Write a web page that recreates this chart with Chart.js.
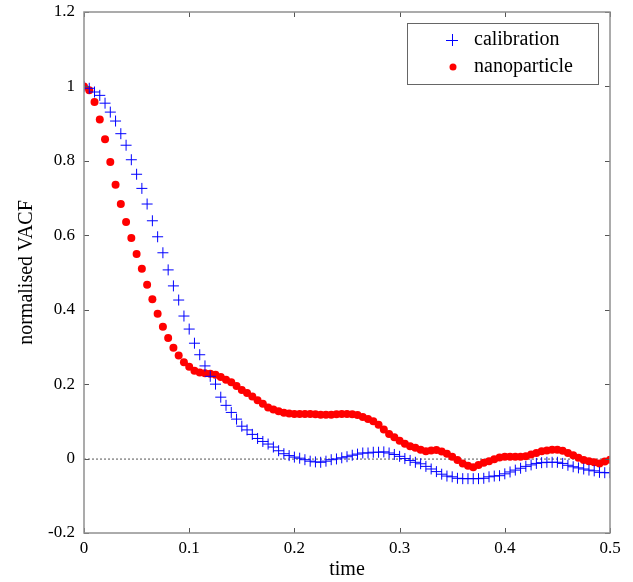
<!DOCTYPE html>
<html>
<head>
<meta charset="utf-8">
<script src="https://cdn.jsdelivr.net/npm/chart.js@4/dist/chart.umd.min.js"></script>
<style>
    html, body { margin: 0; padding: 0; background: #fff; }
    #vacf-chart { display: block; }
</style>
</head>
<body>
<canvas id="vacf-chart" width="633" height="582"></canvas>
<script>
const times = [
    0, 0.005, 0.01, 0.015, 0.02, 0.025, 0.03, 0.035, 0.04, 0.045,
    0.05, 0.055, 0.06, 0.065, 0.07, 0.075, 0.08, 0.085, 0.09, 0.095,
    0.1, 0.105, 0.11, 0.115, 0.12, 0.125, 0.13, 0.135, 0.14, 0.145,
    0.15, 0.155, 0.16, 0.165, 0.17, 0.175, 0.18, 0.185, 0.19, 0.195,
    0.2, 0.205, 0.21, 0.215, 0.22, 0.225, 0.23, 0.235, 0.24, 0.245,
    0.25, 0.255, 0.26, 0.265, 0.27, 0.275, 0.28, 0.285, 0.29, 0.295,
    0.3, 0.305, 0.31, 0.315, 0.32, 0.325, 0.33, 0.335, 0.34, 0.345,
    0.35, 0.355, 0.36, 0.365, 0.37, 0.375, 0.38, 0.385, 0.39, 0.395,
    0.4, 0.405, 0.41, 0.415, 0.42, 0.425, 0.43, 0.435, 0.44, 0.445,
    0.45, 0.455, 0.46, 0.465, 0.47, 0.475, 0.48, 0.485, 0.49, 0.495,
    0.5
];

const calibration = [
    1.0, 0.995, 0.985, 0.976, 0.955, 0.931, 0.907, 0.873, 0.842, 0.803,
    0.764, 0.726, 0.684, 0.639, 0.596, 0.553, 0.507, 0.464, 0.426, 0.383,
    0.348, 0.31, 0.279, 0.249, 0.221, 0.2, 0.165, 0.143, 0.124, 0.106,
    0.087, 0.077, 0.065, 0.054, 0.046, 0.039, 0.031, 0.021, 0.013, 0.008,
    0.004, 0.001, -0.003, -0.007, -0.009, -0.01, -0.007, -0.003, -0.001, 0.002,
    0.005, 0.009, 0.012, 0.015, 0.015, 0.017, 0.017, 0.018, 0.015, 0.011,
    0.006, 0.0, -0.005, -0.01, -0.014, -0.021, -0.028, -0.035, -0.042, -0.047,
    -0.049, -0.053, -0.054, -0.054, -0.054, -0.054, -0.053, -0.049, -0.047, -0.046,
    -0.041, -0.036, -0.031, -0.026, -0.021, -0.017, -0.013, -0.011, -0.01, -0.01,
    -0.01, -0.013, -0.018, -0.022, -0.025, -0.028, -0.031, -0.033, -0.037, -0.038,
    -0.038
];

const nanoparticle = [
    1.0, 0.99, 0.958, 0.911, 0.858, 0.797, 0.736, 0.684, 0.636, 0.593,
    0.55, 0.51, 0.467, 0.428, 0.389, 0.354, 0.324, 0.298, 0.277, 0.259,
    0.247, 0.236, 0.231, 0.229, 0.228, 0.225, 0.219, 0.212, 0.205, 0.195,
    0.184, 0.176, 0.167, 0.157, 0.147, 0.137, 0.132, 0.127, 0.123, 0.121,
    0.12, 0.12, 0.12, 0.12, 0.119, 0.118, 0.118, 0.118, 0.119, 0.12,
    0.12, 0.119, 0.117, 0.112, 0.106, 0.1, 0.091, 0.078, 0.066, 0.057,
    0.048, 0.04, 0.033, 0.029, 0.024, 0.02, 0.022, 0.023, 0.019, 0.013,
    0.005, -0.004, -0.013, -0.019, -0.023, -0.017, -0.011, -0.007, -0.002, 0.003,
    0.005, 0.005, 0.005, 0.005, 0.006, 0.011, 0.015, 0.02, 0.022, 0.024,
    0.024, 0.021, 0.015, 0.009, 0.002, -0.004, -0.007, -0.01, -0.013, -0.008,
    -0.003
];

const seriesNames = ['calibration', 'nanoparticle'];
const xLabel = 'time';
const yLabel = 'normalised VACF';

const serif = "'Liberation Serif', 'Times New Roman', serif";

function toPoints(values)
{
    return values.map(
        (v, i) => ({ x: times[i], y: v })
    );
}

// frame, inward ticks, dotted zero line and the boxed legend
const framePlugin = {
    id: 'frame',
    beforeDatasetsDraw(chart) {
        const { ctx, chartArea: a, scales } = chart;
        const y0 = scales.y.getPixelForValue(0);
        ctx.save();
        ctx.strokeStyle = '#555';
        ctx.lineWidth = 1;
        ctx.setLineDash([2, 2]);
        ctx.beginPath();
        ctx.moveTo(a.left, y0 + 0.5);
        ctx.lineTo(a.right, y0 + 0.5);
        ctx.stroke();
        ctx.restore();
    },
    afterDraw(chart) {
        const { ctx, chartArea: a, scales } = chart;
        const len = 5;
        ctx.save();
        ctx.strokeStyle = '#555';
        ctx.lineWidth = 1;
        scales.x.ticks.forEach(t => {
            const px = Math.round(scales.x.getPixelForValue(t.value)) + 0.5;
            ctx.beginPath();
            ctx.moveTo(px, a.bottom);
            ctx.lineTo(px, a.bottom - len);
            ctx.moveTo(px, a.top);
            ctx.lineTo(px, a.top + len);
            ctx.stroke();
        });
        scales.y.ticks.forEach(t => {
            const py = Math.round(scales.y.getPixelForValue(t.value)) + 0.5;
            ctx.beginPath();
            ctx.moveTo(a.left, py);
            ctx.lineTo(a.left + len, py);
            ctx.moveTo(a.right, py);
            ctx.lineTo(a.right - len, py);
            ctx.stroke();
        });
        ctx.strokeStyle = '#909090';
        ctx.lineWidth = 1.5;
        ctx.strokeRect(a.left, a.top, a.right - a.left, a.bottom - a.top);

        // legend box
        const box = { x: 407, y: 23, w: 191, h: 61 };
        ctx.fillStyle = '#fff';
        ctx.fillRect(box.x, box.y, box.w, box.h);
        ctx.strokeStyle = '#666';
        ctx.lineWidth = 1;
        ctx.strokeRect(box.x + 0.5, box.y + 0.5, box.w, box.h);
        ctx.font = '20px ' + serif;
        ctx.textBaseline = 'middle';
        ctx.fillStyle = '#000';
        chart.data.datasets.forEach((ds, i) => {
            const cy = box.y + 17 + i * 27;
            const mx = 452;
            if (ds.pointStyle === 'cross') {
                ctx.strokeStyle = ds.borderColor;
                ctx.lineWidth = 1;
                ctx.beginPath();
                ctx.moveTo(mx - 6, cy + 0.5);
                ctx.lineTo(mx + 6, cy + 0.5);
                ctx.moveTo(mx + 0.5, cy - 6);
                ctx.lineTo(mx + 0.5, cy + 6);
                ctx.stroke();
            } else {
                ctx.fillStyle = ds.backgroundColor;
                ctx.beginPath();
                ctx.arc(mx + 1, cy, 3.5, 0, Math.PI * 2);
                ctx.fill();
            }
            ctx.fillStyle = '#000';
            ctx.fillText(ds.label, 474, cy);
        });
        ctx.restore();
    }
};

const ctx =
    document.getElementById(
        'vacf-chart'
    );

const vacfChart =
    new Chart(
        ctx,
        {
            type: 'scatter',
            data: {
                datasets: [
                    {
                        label: seriesNames[0],
                        data: toPoints(calibration),
                        pointStyle: 'cross',
                        pointRadius: 5.5,
                        borderColor: '#0000ff',
                        backgroundColor: '#0000ff',
                        borderWidth: 1,
                        order: 0
                    },
                    {
                        label: seriesNames[1],
                        data: toPoints(nanoparticle),
                        pointStyle: 'circle',
                        pointRadius: 4,
                        borderWidth: 0,
                        backgroundColor: '#ff0000',
                        borderColor: '#ff0000',
                        order: 1
                    }
                ]
            },
            options: {
                responsive: false,
                animation: false,
                layout: {
                    padding: { top: 12, right: 23, left: 0, bottom: 0 }
                },
                plugins: {
                    legend: { display: false },
                    tooltip: { enabled: false }
                },
                scales: {
                    x: {
                        type: 'linear',
                        min: 0,
                        max: 0.5,
                        grid: { display: false, drawTicks: false },
                        border: { display: false },
                        ticks: {
                            stepSize: 0.1,
                            padding: 5,
                            color: '#000',
                            font: { family: serif, size: 17 },
                            callback: v => String(Number(v.toFixed(1)))
                        },
                        title: {
                            display: true,
                            text: xLabel,
                            color: '#000',
                            font: { family: serif, size: 20 },
                            padding: { top: 0, bottom: 0 }
                        },
                        afterFit: scale => {
                            scale.height = 49;
                            scale.paddingLeft = 0;
                            scale.paddingRight = 0;
                        }
                    },
                    y: {
                        type: 'linear',
                        min: -0.2,
                        max: 1.2,
                        grid: { display: false, drawTicks: false },
                        border: { display: false },
                        ticks: {
                            stepSize: 0.2,
                            padding: 9,
                            color: '#000',
                            font: { family: serif, size: 17 },
                            callback: v => String(Number(v.toFixed(1)))
                        },
                        title: {
                            display: true,
                            text: yLabel,
                            color: '#000',
                            font: { family: serif, size: 20 },
                            padding: { top: 15, bottom: 0 }
                        },
                        afterFit: scale => {
                            scale.width = 84;
                            scale.paddingTop = 0;
                            scale.paddingBottom = 0;
                        }
                    }
                }
            },
            plugins: [framePlugin]
        }
    );
</script>
</body>
</html>
